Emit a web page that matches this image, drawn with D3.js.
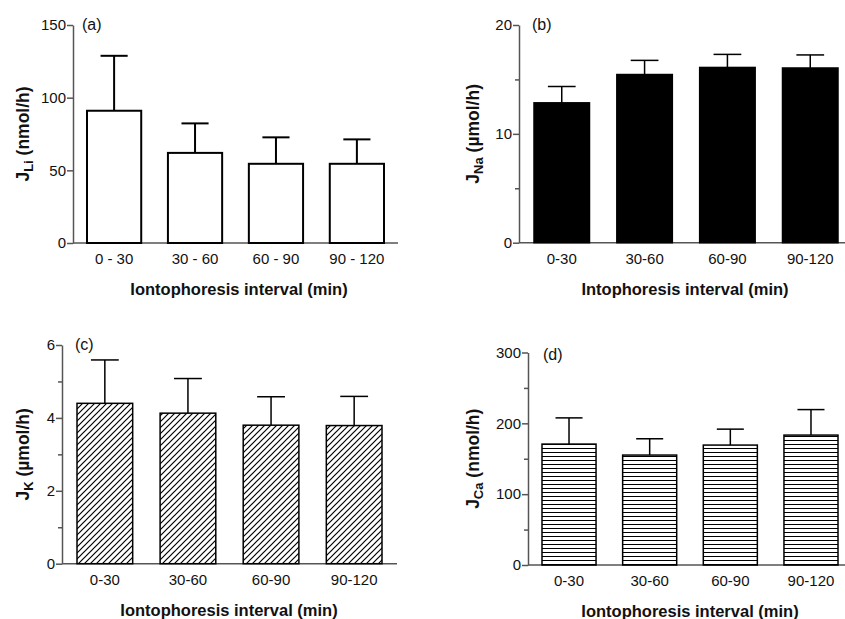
<!DOCTYPE html>
<html>
<head>
<meta charset="utf-8">
<script src="https://cdn.jsdelivr.net/npm/d3@7"></script>
<style>
  body { margin: 0; background: #fff; }
  text { font-family: Arial, "Liberation Sans", sans-serif; fill: #111; }
  .axis path, .axis line { stroke: #555; stroke-width: 1.5; }
  .axis text { font-size: 15px; fill: #111; }
  .title { font-size: 16.5px; font-weight: bold; }
  .ytitle { font-size: 17.5px; font-weight: bold; }
</style>
</head>
<body>
<svg id="chart" width="845" height="619"></svg>
<script>
// intervals (minutes)
var intervalsSpaced = ["0 - 30", "30 - 60", "60 - 90", "90 - 120"];
var intervals = ["0-30", "30-60", "60-90", "90-120"];

// (a) lithium flux, nmol/h
var liMean = [91, 62, 54.5, 54.5];
var liErr = [37.8, 20.3, 18.2, 16.8];
// (b) sodium flux, umol/h
var naMean = [12.85, 15.45, 16.1, 16.05];
var naErr = [1.5, 1.3, 1.2, 1.2];
// (c) potassium flux, umol/h
var kMean = [4.40, 4.13, 3.80, 3.79];
var kErr = [1.19, 0.95, 0.78, 0.80];
// (d) calcium flux, nmol/h
var caMean = [170.7, 155.2, 169.3, 183.4];
var caErr = [37, 23, 22.5, 36];

var svg = d3.select('#chart');
var defs = svg.append('defs');

// diagonal hatch for (c)
defs.append('pattern')
	.attr('id', 'hatch')
	.attr('patternUnits', 'userSpaceOnUse')
	.attr('width', 6)
	.attr('height', 6)
	.append('path')
	.attr('d', 'M0,6 L6,0 M-1.5,1.5 L1.5,-1.5 M4.5,7.5 L7.5,4.5')
	.attr('stroke', '#000')
	.attr('stroke-width', 1.2);

// horizontal stripes for (d)
var stripes = defs.append('pattern')
	.attr('id', 'stripes')
	.attr('patternUnits', 'userSpaceOnUse')
	.attr('width', 8)
	.attr('height', 4);
stripes.append('rect').attr('width', 8).attr('height', 4).attr('fill', '#fff');
stripes.append('line')
	.attr('x1', 0).attr('x2', 8)
	.attr('y1', 0.5).attr('y2', 0.5)
	.attr('stroke', '#000')
	.attr('stroke-width', 1);

function drawPanel(p) {
	var g = svg.append('g');

	var x = d3.scaleBand()
		.domain(p.cats)
		.range([p.bx0, p.bx1])
		.paddingInner(0.33)
		.paddingOuter(0);

	var y = d3.scaleLinear()
		.domain([0, p.max])
		.range([p.yBot, p.yTop]);

	// minor ticks
	if (p.minor.length) {
		g.append('g')
			.attr('class', 'axis')
			.attr('transform', 'translate(' + p.axisX + ',0)')
			.call(d3.axisLeft(y).tickValues(p.minor).tickSize(4).tickFormat(''))
			.select('.domain').remove();
	}

	// y axis
	g.append('g')
		.attr('class', 'axis')
		.attr('transform', 'translate(' + p.axisX + ',0)')
		.call(d3.axisLeft(y).tickValues(p.major).tickFormat(d3.format('d'))
			.tickSize(6).tickSizeOuter(0).tickPadding(1));

	// x axis line
	g.append('line')
		.attr('x1', p.axisX).attr('x2', p.axisEnd)
		.attr('y1', y(0)).attr('y2', y(0))
		.attr('stroke', '#555')
		.attr('stroke-width', 1.5);

	// x tick labels
	g.append('g')
		.attr('class', 'axis')
		.selectAll('text')
		.data(p.cats)
		.enter()
		.append('text')
		.attr('x', function(d) { return x(d) + x.bandwidth() / 2; })
		.attr('y', y(0) + 21)
		.attr('text-anchor', 'middle')
		.text(function(d) { return d; });

	// error bars
	var eb = g.append('g');
	eb.selectAll('line.v')
		.data(p.mean)
		.enter()
		.append('line')
		.attr('x1', function(d, i) { return x(p.cats[i]) + x.bandwidth() / 2; })
		.attr('x2', function(d, i) { return x(p.cats[i]) + x.bandwidth() / 2; })
		.attr('y1', function(d) { return y(d); })
		.attr('y2', function(d, i) { return y(d + p.err[i]); })
		.attr('stroke', '#000')
		.attr('stroke-width', p.lw);
	eb.selectAll('line.cap')
		.data(p.mean)
		.enter()
		.append('line')
		.attr('x1', function(d, i) { return x(p.cats[i]) + x.bandwidth() * 0.25; })
		.attr('x2', function(d, i) { return x(p.cats[i]) + x.bandwidth() * 0.75; })
		.attr('y1', function(d, i) { return y(d + p.err[i]); })
		.attr('y2', function(d, i) { return y(d + p.err[i]); })
		.attr('stroke', '#000')
		.attr('stroke-width', p.lw);

	// bars
	g.selectAll('rect.bar')
		.data(p.mean)
		.enter()
		.append('rect')
		.attr('class', 'bar')
		.attr('x', function(d, i) { return x(p.cats[i]); })
		.attr('y', function(d) { return y(d); })
		.attr('width', x.bandwidth())
		.attr('height', function(d) { return y(0) - y(d); })
		.attr('fill', p.fill)
		.attr('stroke', '#000')
		.attr('stroke-width', p.lw);

	// panel letter
	g.append('text')
		.attr('x', p.axisX + p.letterDx)
		.attr('y', p.yTop + p.letterDy)
		.style('font-size', '16px')
		.text(p.letter);

	// x title
	g.append('text')
		.attr('class', 'title')
		.attr('x', p.xTitleX)
		.attr('y', y(0) + 52)
		.attr('text-anchor', 'middle')
		.text(p.xTitle);

	// y title with subscript
	var yt = g.append('text')
		.attr('class', 'ytitle')
		.attr('text-anchor', 'middle')
		.attr('transform', 'translate(' + p.yTitleX + ',' + ((p.yTop + p.yBot) / 2) + ') rotate(-90)');
	yt.append('tspan').text('J');
	yt.append('tspan').attr('dy', 4).style('font-size', '13px').text(p.sub);
	yt.append('tspan').attr('dy', -4).text(' ' + p.unit);
}

drawPanel({
	cats: intervalsSpaced, mean: liMean, err: liErr, max: 150,
	major: [0, 50, 100, 150], minor: [],
	axisX: 73, axisEnd: 398, bx0: 87, bx1: 384, yTop: 25, yBot: 243,
	fill: '#fff', lw: 2, letter: '(a)', letterDx: 9, letterDy: 5,
	xTitle: 'Iontophoresis interval (min)', xTitleX: 239,
	sub: 'Li', unit: '(nmol/h)', yTitleX: 29
});

drawPanel({
	cats: intervals, mean: naMean, err: naErr, max: 20,
	major: [0, 10, 20], minor: [5, 15],
	axisX: 519, axisEnd: 845, bx0: 534, bx1: 838, yTop: 25, yBot: 242.7,
	fill: '#000', lw: 1.5, letter: '(b)', letterDx: 13, letterDy: 5,
	xTitle: 'Intophoresis interval (min)', xTitleX: 685,
	sub: 'Na', unit: '(\u00b5mol/h)', yTitleX: 479
});

drawPanel({
	cats: intervals, mean: kMean, err: kErr, max: 6,
	major: [0, 2, 4, 6], minor: [1, 3, 5],
	axisX: 62, axisEnd: 397, bx0: 77, bx1: 382, yTop: 345, yBot: 563.7,
	fill: 'url(#hatch)', lw: 1.5, letter: '(c)', letterDx: 13, letterDy: 5,
	xTitle: 'Iontophoresis interval (min)', xTitleX: 229,
	sub: 'K', unit: '(\u00b5mol/h)', yTitleX: 29
});

drawPanel({
	cats: intervals, mean: caMean, err: caErr, max: 300,
	major: [0, 100, 200, 300], minor: [50, 150, 250],
	axisX: 528, axisEnd: 845, bx0: 542, bx1: 838, yTop: 352.5, yBot: 565,
	fill: 'url(#stripes)', lw: 1.5, letter: '(d)', letterDx: 15, letterDy: 7,
	xTitle: 'Iontophoresis interval (min)', xTitleX: 690,
	sub: 'Ca', unit: '(nmol/h)', yTitleX: 479
});
</script>
</body>
</html>
